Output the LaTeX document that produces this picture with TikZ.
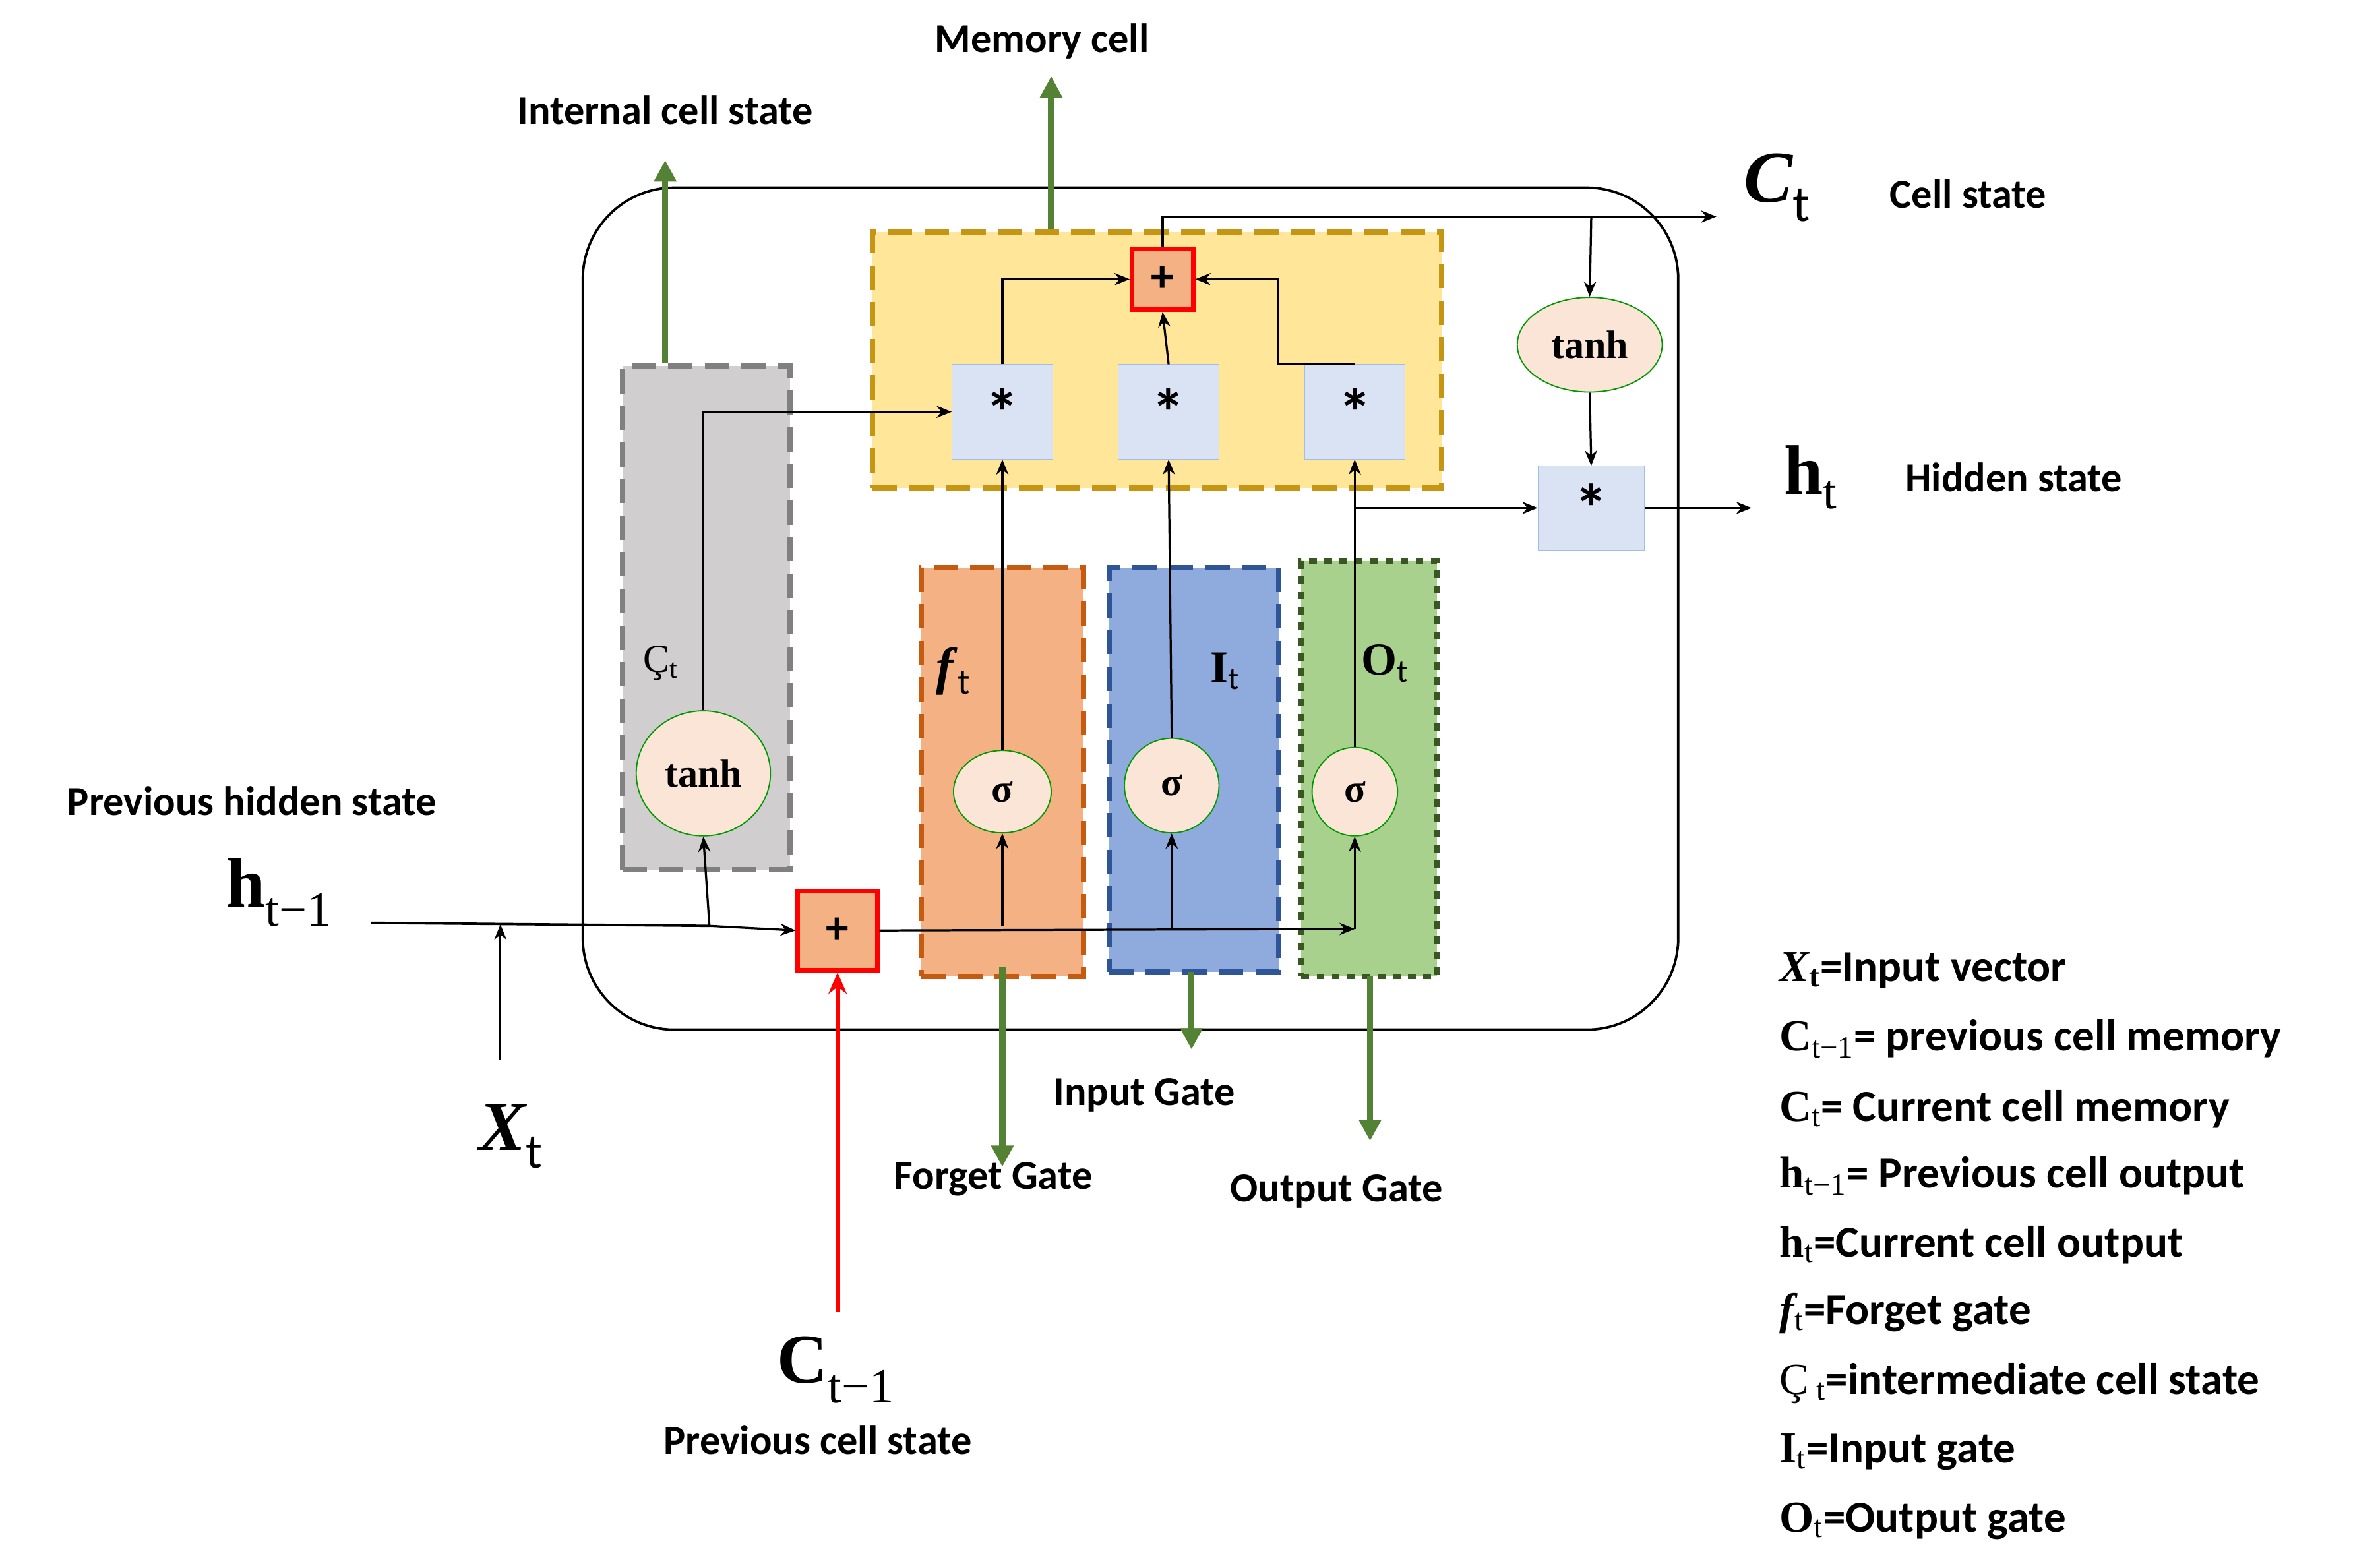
\documentclass[tikz,border=0pt]{standalone}
\usepackage{fontspec}
\setmainfont{Carlito}
\newfontfamily\sym{Liberation Serif}
\usetikzlibrary{arrows.meta,shapes.geometric}
\definecolor{gold}{RGB}{196,150,20}
\definecolor{yel}{RGB}{255,230,153}
\definecolor{star}{RGB}{218,227,243}
\definecolor{starb}{RGB}{160,190,230}
\definecolor{skin}{RGB}{251,229,214}
\definecolor{gbox}{RGB}{208,206,206}
\definecolor{obox}{RGB}{244,177,131}
\definecolor{oedge}{RGB}{197,90,17}
\definecolor{bbox}{RGB}{143,170,220}
\definecolor{bedge}{RGB}{47,85,151}
\definecolor{grbox}{RGB}{169,209,142}
\definecolor{gredge}{RGB}{56,87,35}
\definecolor{garrow}{RGB}{84,130,53}
\begin{document}
\begin{tikzpicture}[x=1pt,y=-1pt,
  lbl/.style={font=\fontsize{27}{30}\selectfont\bfseries},
  big/.style={font=\fontsize{46}{50}\selectfont\sym\bfseries},
  leg/.style={font=\fontsize{29}{32}\selectfont\bfseries,anchor=west},
  mul/.style={draw=starb,fill=star,minimum width=66pt,minimum height=62pt,font=\fontsize{44}{44}\selectfont\bfseries},
  add/.style={draw=red,line width=3pt,fill=obox,minimum width=40pt,minimum height=40pt,inner sep=0pt,font=\fontsize{30}{30}\selectfont\bfseries},
  sig/.style={ellipse,draw=green!60!black,fill=skin,thick,minimum width=64pt,minimum height=54pt,inner sep=0pt,font=\fontsize{26}{26}\selectfont\sym\bfseries},
  ar/.style={-{Stealth[length=10pt,width=8pt]},line width=1.4pt},
  ga/.style={-{Triangle[length=14pt,width=14pt]},line width=4pt,draw=garrow,color=garrow},
  box/.style={line width=3.5pt,dash pattern=on 16pt off 8pt}]
\useasboundingbox (0,0) rectangle (1560,1024);
\node[draw,line width=1.6pt,rounded corners=60pt,minimum width=718pt,minimum height=552pt] (cell) at (741,399) {};
\node[box,draw=gold,fill=yel,minimum width=373pt,minimum height=168pt] (mem) at (758.5,236) {};
\node[box,draw=gray,fill=gbox,minimum width=110pt,minimum height=330pt] (gbx) at (463,405) {};
\node[box,draw=oedge,fill=obox,minimum width=106pt,minimum height=268pt] (fbx) at (657,506) {};
\node[box,draw=bedge,fill=bbox,minimum width=111pt,minimum height=265pt] (ibx) at (782.5,504.5) {};
\node[line width=3.5pt,dash pattern=on 5pt off 5pt,draw=gredge,fill=grbox,minimum width=89pt,minimum height=272pt] (obx) at (897.5,504) {};
\node[add] (p1) at (762,183) {+};
\node[mul] (m1) at (657,270) {*};
\node[mul] (m2) at (766,270) {*};
\node[mul] (m3) at (888,270) {*};
\node[sig,minimum width=88pt,minimum height=82pt] (t1) at (461,507) {tanh};
\node[sig] (s1) at (657,519) {σ};
\node[sig,minimum width=62pt,minimum height=62pt] (s2) at (768,515) {σ};
\node[sig,minimum width=56pt,minimum height=58pt] (s3) at (888,519) {σ};
\node[add,minimum width=52pt,minimum height=52pt] (p0) at (549,610) {+};
\node[sig,minimum width=95pt,minimum height=62pt] (t2) at (1042,226) {tanh};
\node[mul,minimum width=70pt,minimum height=55pt] (m4) at (1043,333) {*};
% labels
\node[font=\fontsize{26}{26}\selectfont\sym] at (433,435) {Ç\textsubscript{t}};
\node[font=\fontsize{34}{34}\selectfont\sym\bfseries] at (625,440) {\textit{f}\textsubscript{\normalfont t}};
\node[font=\fontsize{30}{30}\selectfont\sym\bfseries] at (803,440) {I\textsubscript{\normalfont t}};
\node[font=\fontsize{30}{30}\selectfont\sym\bfseries] at (908,435) {O\textsubscript{\normalfont t}};
% coordinates
\coordinate (hin) at (243,605);
\coordinate (xin) at (328,695);
\coordinate (j1) at (465,607);
\coordinate (j2) at (888,609);
\coordinate (ctop) at (762,142);
\coordinate (cout) at (1125,142);
\coordinate (cin) at (549,860);
% connectors
\draw[line width=1.6pt] (hin) -- (j1);
\draw[ar] (j1) -- (p0.west);
\draw[ar] (xin) -- (328,606);
\draw[ar] (j1) -- (t1.south);
\draw[ar] (p0.east) -- (j2);
\draw[ar] (657,607) -- (s1.south);
\draw[ar] (768,608) -- (s2.south);
\draw[ar] (j2) -- (s3.south);
\draw[ar] (s1.north) -- (m1.south);
\draw[ar] (s2.north) -- (m2.south);
\draw[ar] (s3.north) -- (m3.south);
\draw[ar] (t1.north) |- (m1.west);
\draw[ar] (m1.north) |- (p1.west);
\draw[ar] (m2.north) -- (p1.south);
\draw[ar] (m3.north) -- ++(-50,0) |- (p1.east);
\draw[ar] (888,333) -- (m4.west);
\draw[ar] (p1.north) -- (ctop) -- (cout);
\draw[ar] (1043,142) -- (t2.north);
\draw[ar] (t2.south) -- (m4.north);
\draw[ar] (m4.east) -- (1148,333);
\draw[-{Stealth[length=14pt,width=12pt]},line width=3pt,red] (cin) -- (p0.south);
\draw[ga] (gbx.north -| 436,0) -- (436,105);
\draw[ga] (mem.north -| 689,0) -- (689,50);
\draw[ga] (fbx.south) ++(0,-8) -- (657,765);
\draw[ga] (781,637) -- (781,688);
\draw[ga] (898,640) -- (898,748);
% texts
\node[lbl] at (683,27) {Memory cell};
\node[lbl] at (436,72) {Internal cell state};
\node[font=\fontsize{48}{48}\selectfont\sym\bfseries\itshape] at (1165,123) {C\textsubscript{\normalfont t}};
\node[lbl] at (1290,127) {Cell state};
\node[big] at (1187,313) {h\textsubscript{\mdseries t}};
\node[lbl] at (1320,313) {Hidden state};
\node[lbl] at (165,525) {Previous hidden state};
\node[big] at (183,585) {h\textsubscript{\mdseries t−1}};
\node[font=\fontsize{46}{46}\selectfont\sym\bfseries\itshape] at (335,745) {X\textsubscript{\normalfont t}};
\node[lbl] at (750,718) {Input Gate};
\node[lbl] at (651,773) {Forget Gate};
\node[lbl] at (876,781) {Output Gate};
\node[big] at (548,898) {C\textsubscript{\mdseries t−1}};
\node[lbl] at (536,944) {Previous cell state};
\node[leg] at (1163,636) {{\sym\itshape X}\textsubscript{\sym t}=Input vector};
\node[leg] at (1163,681) {{\sym C}\textsubscript{\sym\mdseries t−1}= previous cell memory};
\node[leg] at (1163,727) {{\sym C}\textsubscript{\sym\mdseries t}= Current cell memory};
\node[leg] at (1163,771) {{\sym h}\textsubscript{\sym\mdseries t−1}= Previous cell output};
\node[leg] at (1163,816) {{\sym h}\textsubscript{\sym\mdseries t}=Current cell output};
\node[leg] at (1163,861) {{\sym\itshape f}\textsubscript{\sym\mdseries t}=Forget gate};
\node[leg] at (1163,907) {{\sym\mdseries Ç}\,\textsubscript{\sym\mdseries t}=intermediate cell state};
\node[leg] at (1163,952) {{\sym I}\textsubscript{\sym\mdseries t}=Input gate};
\node[leg] at (1163,997) {{\sym O}\textsubscript{\sym\mdseries t}=Output gate};
\end{tikzpicture}
\end{document}
